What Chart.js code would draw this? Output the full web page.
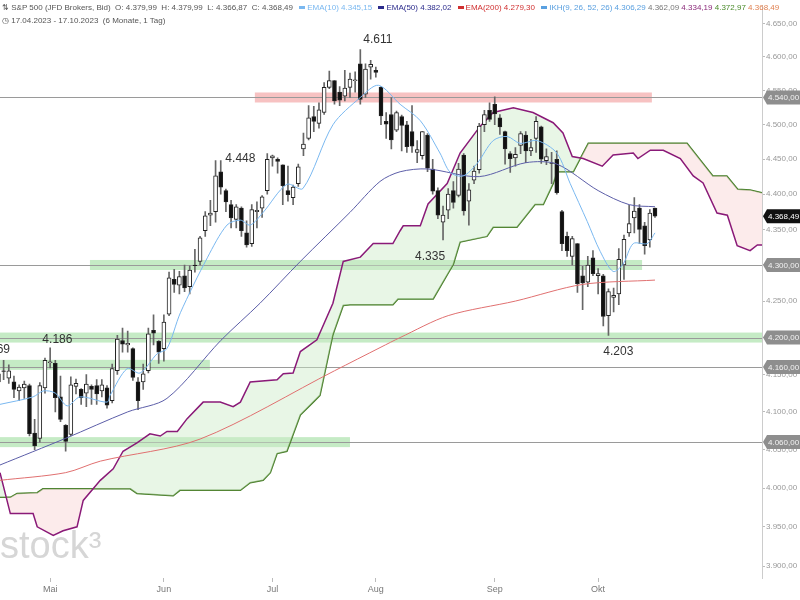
<!DOCTYPE html>
<html>
<head>
<meta charset="utf-8">
<script src="https://cdn.jsdelivr.net/npm/chart.js@4"></script>
<style>
  body { margin:0; background:#fff; }
  #wrap { position:relative; width:800px; height:600px; }
  #hdr { position:absolute; left:2px; top:1px; font:8px "Liberation Sans", Arial, sans-serif; color:#555; line-height:13px; white-space:nowrap; }
  .sq { display:inline-block; width:6px; height:3px; vertical-align:middle; margin:0 2px 0 4px; }
</style>
</head>
<body>
<div id="wrap">
  <canvas id="c" width="800" height="600"></canvas>
  <div id="hdr">
    <div>⇅ S&amp;P 500 (JFD Brokers, Bid) &nbsp;O: 4.379,99 &nbsp;H: 4.379,99 &nbsp;L: 4.366,87 &nbsp;C: 4.368,49
      <span class="sq" style="background:#7ab8f0"></span><span style="color:#7ab8f0">EMA(10) 4.345,15</span>
      <span class="sq" style="background:#2b2b8c"></span><span style="color:#2b2b8c">EMA(50)</span> <span style="color:#2b2b8c">4.382,02</span>
      <span class="sq" style="background:#d03030"></span><span style="color:#d03030">EMA(200) 4.279,30</span>
      <span class="sq" style="background:#5aa0e0"></span><span style="color:#5aa0e0">IKH(9, 26, 52, 26) 4.306,29</span>
      <span style="color:#777">4.362,09</span> <span style="color:#8b2a7a">4.334,19</span> <span style="color:#4a8a2a">4.372,97</span> <span style="color:#e08050">4.368,49</span></div>
    <div>◷ 17.04.2023 - 17.10.2023 &nbsp;(6 Monate, 1 Tag)</div>
  </div>
</div>
<script>
// daily candles, index 0 = 17.04.2023 (trading days)
const opens  = [4140,4155,4145,4140,4128,4132,4135,4072,4065,4132, 4166,4165,4120,4082,4070,4134,4130,4125,4134,4135,
  4128,4132,4115,4155,4196,4190,4185,4140,4140,4155, 4210,4195,4185,4232,4280,4272,4285,4270,4300,4305,
  4348,4370,4375,4432,4405,4385,4364,4380,4345,4330, 4375,4380,4405,4452,4450,4442,4405,4395,4415,4465,
  4480,4512,4502,4518,4555,4565,4548,4542,4555,4565, 4590,4545,4585,4580,4555,4505,4515,4492,4512,4500,
  4490,4460,4455,4485,4436,4405,4360,4377,4405,4398, 4456,4390,4420,4435,4500,4521,4530,4510,4490,4458,
  4452,4470,4485,4462,4480,4497,4448,4445,4450,4375, 4340,4312,4330,4285,4276,4310,4285,4285,4230,4255,
  4260,4300,4345,4366,4380,4355,4335,4379.99];
const highs  = [4163,4169,4163,4148,4136,4141,4137,4090,4139,4172, 4186,4169,4148,4083,4147,4144,4131,4150,4136,4143,
  4143,4135,4164,4203,4213,4209,4186,4146,4164,4213, 4231,4196,4231,4290,4294,4291,4300,4299,4322,4340,
  4375,4391,4448,4448,4407,4391,4385,4382,4362,4385, 4389,4398,4458,4456,4452,4442,4440,4413,4443,4488,
  4528,4527,4532,4562,4579,4565,4556,4580,4576,4578, 4611,4590,4595,4585,4556,4518,4540,4520,4514,4505,
  4528,4477,4490,4487,4450,4409,4383,4408,4418,4444, 4458,4415,4440,4502,4521,4532,4541,4515,4491,4461,
  4467,4490,4490,4479,4512,4498,4465,4460,4462,4377, 4346,4340,4330,4298,4312,4320,4295,4287,4267,4268,
  4323,4342,4384,4395,4385,4360,4378,4379.99];
const lows   = [4135,4143,4138,4119,4115,4118,4068,4050,4060,4125, 4159,4100,4087,4048,4068,4124,4110,4107,4110,4110,
  4120,4105,4112,4150,4180,4180,4142,4103,4130,4152, 4190,4165,4168,4230,4262,4260,4263,4260,4290,4300,
  4340,4355,4360,4400,4375,4352,4352,4340,4325,4326, 4352,4367,4400,4440,4430,4385,4390,4385,4411,4455,
  4478,4490,4495,4515,4553,4530,4528,4535,4540,4548, 4530,4540,4567,4570,4500,4480,4465,4490,4462,4460,
  4460,4445,4450,4432,4400,4365,4335,4365,4380,4396, 4370,4356,4415,4430,4490,4505,4500,4486,4443,4431,
  4440,4458,4445,4455,4460,4444,4442,4415,4400,4320, 4312,4300,4262,4238,4270,4285,4260,4216,4203,4235,
  4245,4280,4340,4345,4330,4315,4325,4366.87];
const closes = [4151,4154,4155,4130,4133,4137,4071,4055,4135,4169, 4167,4119,4090,4061,4136,4138,4119,4137,4130,4124,
  4136,4109,4158,4198,4191,4192,4146,4115,4151,4205, 4206,4180,4221,4282,4273,4284,4268,4293,4299,4338,
  4369,4373,4426,4410,4389,4366,4382,4348,4328,4378, 4377,4396,4450,4455,4447,4412,4399,4410,4439,4472,
  4510,4505,4522,4555,4565,4535,4536,4554,4567,4566, 4537,4582,4589,4577,4513,4501,4478,4518,4499,4468,
  4469,4464,4490,4437,4404,4370,4370,4400,4388,4436, 4376,4406,4433,4498,4515,4508,4516,4497,4465,4451,
  4457,4487,4462,4467,4505,4450,4454,4444,4402,4330, 4320,4337,4274,4275,4300,4288,4288,4229,4263,4258,
  4308,4336,4358,4376,4350,4327,4373,4368.49];

// indicator lines: [trading day index, value]
const ema10 = [[0.3,4110],[6.7,4120],[8.7,4128],[11,4125],[13.3,4108],[15.8,4120],[21,4113],[21.6,4122],[24.9,4158],
  [27.4,4152],[30.7,4178],[32.6,4185],[35.2,4234],[40.4,4310],[44.2,4356],[46.8,4363],[48.7,4356],[51.2,4374],
  [55.8,4414],[58.9,4408],[64.7,4500],[70,4540],[73.5,4558],[77.7,4530],[81.6,4506],[85.4,4459],[87.4,4431],
  [89.9,4426],[92.6,4444],[95.7,4477],[98.4,4483],[100.9,4473],[104.2,4477],[108,4459],[110.6,4415],[113.9,4361],
  [116.4,4319],[118.9,4291],[120.8,4301],[122.8,4330],[125.5,4330],[127,4345]];
const ema50 = [[0.3,4030],[13,4065],[25,4100],[32.6,4118],[43,4196],[50.6,4247],[58.4,4305],[68,4374],[73.8,4418],
  [77.7,4432],[83,4436],[93,4425],[102,4445],[108,4443],[116,4405],[122,4385],[127,4382]];
const ema200 = [[0.3,4010],[13,4020],[19.7,4035],[39,4064],[65,4155],[74,4187],[77.7,4200],[87,4230],[100,4250],
  [113,4273],[127,4279]];
const spanA = [[0.3,4020],[2.3,3967],[6.7,3967],[7.5,3950],[10.6,3939],[12.5,3945],[15.2,3950],[16.4,3984],[19.7,4010],
  [22.2,4025],[24.1,4048],[26.8,4059],[29.3,4071],[31.3,4068],[32.6,4074],[34.6,4074],[36.5,4091],[39.6,4113],
  [42.9,4113],[45.4,4107],[46.8,4113],[48.7,4140],[53.9,4143],[55.1,4151],[57,4152],[58.4,4181],[61.6,4197],
  [64.7,4247],[66.7,4305],[70,4311],[72.5,4330],[76.3,4330],[77.7,4348],[78.3,4355],[81.6,4355],[83.1,4386],
  [86.8,4415],[89.3,4459],[93.2,4498],[95.7,4518],[99.6,4525],[103.4,4518],[107.3,4503],[109.2,4488],[111,4454],
  [113.1,4451],[116.8,4440],[118.9,4456],[122.8,4459],[123.7,4451],[126.1,4463],[128.6,4463],[131.9,4451],
  [134.4,4426],[136.3,4416],[139,4373],[141,4370],[142.9,4327],[145.4,4320],[146.8,4328],[147.7,4328]];
const spanB = [[0.3,3988],[2.3,3988],[3.6,3993],[7.5,3994],[8.6,3999],[25.5,3999],[26.8,3993],[33.8,3990],[35.1,3997],
  [46.8,3997],[48.7,4007],[51.2,4010],[52.6,4020],[53.9,4045],[55.8,4048],[58.4,4096],[60.9,4113],[62.2,4122],
  [64.7,4204],[66.7,4244],[68,4245],[76.3,4245],[77.3,4253],[84.1,4253],[88,4301],[89.3,4332],[94.5,4340],
  [95.7,4353],[100.3,4353],[103.8,4385],[105.4,4385],[107.3,4415],[108.1,4432],[111.2,4432],[114.1,4473],
  [133.2,4473],[138.2,4426],[140.9,4426],[143,4407],[145.4,4406],[147.7,4402]];

// axis
const monthPos   = [10,32,53,73,96,116];
const monthNames = ['Mai','Jun','Jul','Aug','Sep','Okt'];
const yTicks = [3900,3950,4000,4050,4100,4150,4200,4250,4300,4350,4400,4450,4500,4550,4600,4650];

// horizontal levels: [value, from idx, to idx, colour]
const bands = [[4540,49.6,126.4,'rgba(238,120,120,0.45)'],[4300,17.7,124.5,'rgba(110,205,110,0.4)'],
  [4200,0,148,'rgba(110,205,110,0.4)'],[4163,0,40.9,'rgba(110,205,110,0.4)'],[4060,0,68,'rgba(110,205,110,0.4)']];
const levels = [4540,4300,4200,4160,4060];
const notes = [['4.611',73.4,4626],['4.448',46.8,4451],['4.335',83.5,4312],['4.203',119.9,4181],['4.186',11.4,4197],['4.169',0.3,4184]];
const lastPrice = 4368.49;

const fmt = v => v.toLocaleString('de-DE', { minimumFractionDigits:2, maximumFractionDigits:2 });
const pts = arr => arr.map(([x, y]) => ({ x, y }));
const up = closes.map((c, i) => c >= opens[i]);
const axisFont = '"Liberation Sans", Arial';

const levelsPlugin = {
  id: 'levels',
  beforeDatasetsDraw(chart) {
    const { ctx, chartArea: a, scales: { x, y } } = chart;
    ctx.save();
    ctx.font = '38px "Liberation Sans", Arial';
    ctx.fillStyle = '#d6d6d6';
    ctx.fillText('stock³', 0, 558);
    bands.forEach(([v, f, t, col]) => {
      ctx.fillStyle = col;
      const x0 = Math.max(a.left, x.getPixelForValue(f)), x1 = Math.min(a.right, x.getPixelForValue(t));
      ctx.fillRect(x0, y.getPixelForValue(v) - 5, x1 - x0, 10);
    });
    ctx.strokeStyle = '#9a9a9a'; ctx.lineWidth = 1;
    levels.forEach(v => {
      const py = Math.round(y.getPixelForValue(v)) + 0.5;
      ctx.beginPath(); ctx.moveTo(a.left, py); ctx.lineTo(a.right, py); ctx.stroke();
    });
    ctx.restore();
  },
  afterDraw(chart) {
    const { ctx, chartArea: a, scales: { x, y } } = chart;
    ctx.save();
    ctx.font = '12px "Liberation Sans", Arial';
    ctx.fillStyle = '#333'; ctx.textAlign = 'center'; ctx.textBaseline = 'middle';
    notes.forEach(([t, i, v]) => ctx.fillText(t, x.getPixelForValue(i) + (t === '4.169' ? -5 : 0), y.getPixelForValue(v)));
    const tag = (v, bg, fg) => {
      const py = y.getPixelForValue(v), x0 = a.right + 1;
      ctx.fillStyle = bg;
      ctx.beginPath(); ctx.moveTo(x0, py); ctx.lineTo(x0 + 4, py - 7); ctx.lineTo(800, py - 7);
      ctx.lineTo(800, py + 7); ctx.lineTo(x0 + 4, py + 7); ctx.closePath(); ctx.fill();
      ctx.fillStyle = fg; ctx.font = '8px ' + axisFont; ctx.textAlign = 'left';
      ctx.fillText(fmt(v), x0 + 5, py + 0.5);
    };
    levels.forEach(v => tag(v, '#8e8e8e', '#f2f2f2'));
    tag(lastPrice, '#111', '#fff');
    ctx.restore();
  }
};

new Chart(document.getElementById('c'), {
  data: {
    datasets: [
      { type:'bar', label:'body', order:1, grouped:false,
        data: closes.map((c, i) => ({ x:i, y:[opens[i], c] })),
        backgroundColor: up.map(u => u ? '#fff' : '#111'), borderColor:'#222', borderWidth:1, borderSkipped:false,
        barThickness:4 },
      { type:'bar', label:'wick', order:2, grouped:false,
        data: highs.map((h, i) => ({ x:i, y:[lows[i], h] })),
        backgroundColor:'#666', barThickness:1 },
      { type:'line', label:'EMA10', order:0, data: pts(ema10), borderColor:'#7ab8f0', borderWidth:1, pointRadius:0, tension:0.3 },
      { type:'line', label:'EMA50', order:0, data: pts(ema50), borderColor:'#5c5ea8', borderWidth:1, pointRadius:0, tension:0.3 },
      { type:'line', label:'EMA200', order:0, data: pts(ema200), borderColor:'#e07070', borderWidth:1, pointRadius:0, tension:0.3 },
      { type:'line', label:'SpanA', order:3, data: pts(spanA), borderColor:'#8a1a78', borderWidth:1.5, pointRadius:0,
        fill: { target:6, above:'rgba(205,235,200,0.45)', below:'rgba(250,215,215,0.5)' } },
      { type:'line', label:'SpanB', order:3, data: pts(spanB), borderColor:'#3f7a20', borderWidth:1.5, pointRadius:0 }
    ]
  },
  options: {
    responsive:false, animation:false,
    layout: { padding:0 },
    plugins: { legend:{ display:false }, tooltip:{ enabled:false } },
    scales: {
      x: {
        type:'linear', min:0.3, max:147.7, offset:false,
        afterBuildTicks: s => { s.ticks = monthPos.map(v => ({ value:v })); },
        afterFit: s => { s.height = 22; },
        ticks: { autoSkip:false, maxRotation:0, color:'#777', font:{ size:9, family:axisFont }, padding:2,
                 callback: v => monthNames[monthPos.indexOf(v)] },
        grid: { drawOnChartArea:false, offset:false, tickLength:4, color:'#bbb' },
        border: { display:false }
      },
      y: {
        type:'logarithmic', position:'right', min:3885, max:4677,
        afterBuildTicks: s => { s.ticks = yTicks.map(v => ({ value:v })); },
        afterFit: s => { s.width = 38; },
        ticks: { color:'#999', font:{ size:8, family:axisFont }, padding:1, callback: v => fmt(v) },
        grid: { drawOnChartArea:false, tickLength:3, color:'#bbb' },
        border: { color:'#ccc' }
      }
    }
  },
  plugins: [levelsPlugin]
});
</script>
</body>
</html>
